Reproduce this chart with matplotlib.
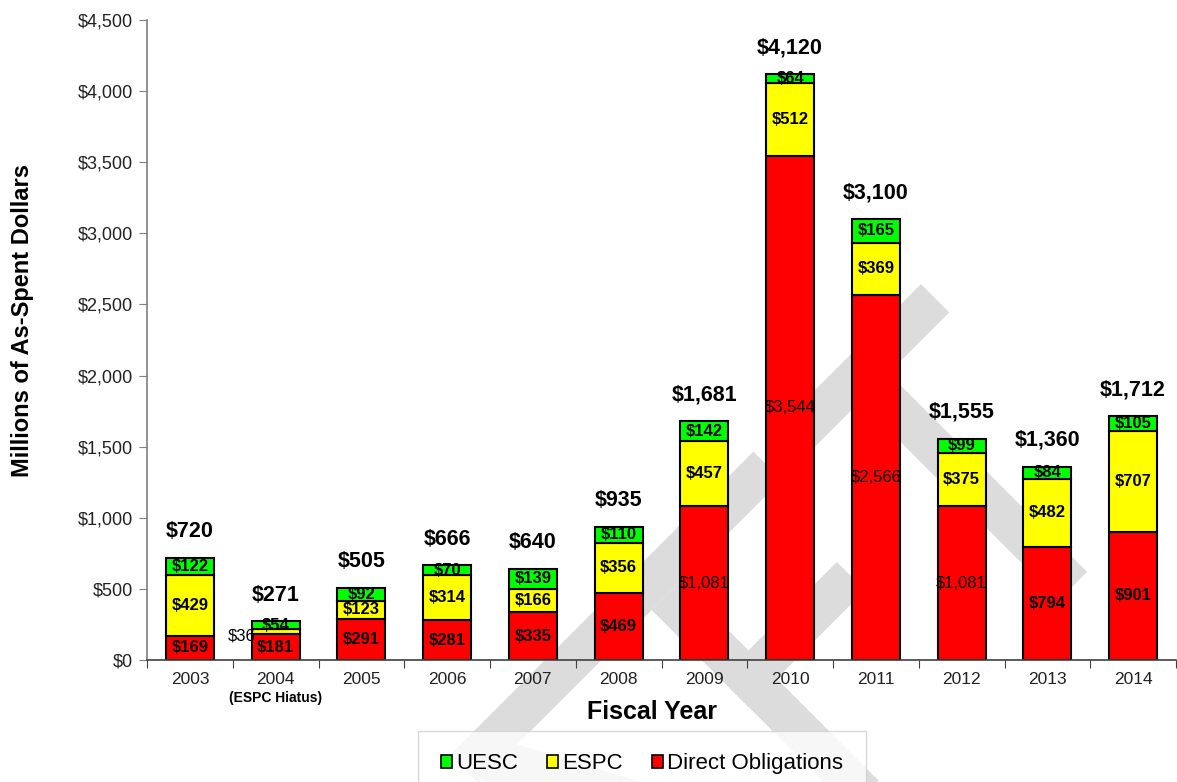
import matplotlib
matplotlib.use("Agg")
import matplotlib.pyplot as plt
from matplotlib.patches import Polygon
from matplotlib.ticker import FuncFormatter, FixedLocator
import numpy as np

years = ["2003", "2004", "2005", "2006", "2007", "2008", "2009", "2010",
         "2011", "2012", "2013", "2014"]
direct = [169, 181, 291, 281, 335, 469, 1081, 3544, 2566, 1081, 794, 901]
espc = [429, 36, 123, 314, 166, 356, 457, 512, 369, 375, 482, 707]
uesc = [122, 54, 92, 70, 139, 110, 142, 64, 165, 99, 84, 105]
totals = [720, 271, 505, 666, 640, 935, 1681, 4120, 3100, 1555, 1360, 1712]

plt.rcParams['font.family'] = ['Liberation Sans', 'DejaVu Sans']

W, H = 1177, 782
fig = plt.figure(figsize=(W / 100, H / 100), dpi=100)
ax = fig.add_axes([147 / W, 1 - 660 / H, (1176 - 147) / W, 640 / H])
ax.set_facecolor('none')

# grey "DRAFT" watermark, drawn as strokes in a 45 degree rotated frame
# (origin = foot of the T, units = pixels)
org = np.array([1073.0, 586.0])
r = np.array([1.0, -1.0]) / np.sqrt(2)   # along the baseline
u = np.array([-1.0, -1.0]) / np.sqrt(2)  # letter "up"


def rect(x0, x1, y0, y1):
    pts = [org + a * r + b * u for a, b in
           [(x0, y0), (x1, y0), (x1, y1), (x0, y1)]]
    return [(p[0] / W, 1 - p[1] / H) for p in pts]


def leg(a0, b0, a1, b1, w):
    p0 = org + a0 * r + b0 * u
    p1 = org + a1 * r + b1 * u
    d = (p1 - p0) / np.hypot(*(p1 - p0))
    n = np.array([-d[1], d[0]]) * w / 2
    pts = [p0 + n, p1 + n, p1 - n, p0 - n]
    return [(p[0] / W, 1 - p[1] / H) for p in pts]


shapes = [rect(-106, 106, 281, 321),   # T bar
          rect(-20, 20, 0, 281),       # T stem
          rect(-560, -131, 281, 321),  # F top bar
          rect(-315, -275, 0, 281),    # F stem
          rect(-315, -150, 144, 184),  # F middle bar
          leg(-540, 300, -380, 0, 44)]  # A leg
for s in shapes:
    fig.patches.append(Polygon(s, closed=True, transform=fig.transFigure,
                               facecolor='#dcdcdc', edgecolor='none',
                               zorder=-1))

x = np.arange(len(years))
direct = np.array(direct)
espc = np.array(espc)
uesc = np.array(uesc)
width = 0.56

b_dir = ax.bar(x, direct, width, color='#FF0000', edgecolor='black',
               linewidth=1.5, label='Direct Obligations', zorder=2)
b_espc = ax.bar(x, espc, width, bottom=direct, color='#FFFF00',
                edgecolor='black', linewidth=1.5, label='ESPC', zorder=2)
b_uesc = ax.bar(x, uesc, width, bottom=direct + espc, color='#00FF00',
                edgecolor='black', linewidth=1.5, label='UESC', zorder=2)

# segment labels
for i in range(len(years)):
    for base, val in [(0, direct[i]), (direct[i], espc[i]),
                      (direct[i] + espc[i], uesc[i])]:
        w = 'normal' if val >= 1000 else 'bold'
        if years[i] == "2004" and val == espc[i] and base == direct[i]:
            ax.annotate("$%d" % val, (i - width / 2, base + val / 2),
                        xytext=(3, -3), textcoords='offset points',
                        ha='right', va='center', fontsize=12, zorder=3)
            continue
        ax.text(i, base + val / 2, "${:,}".format(val), ha='center',
                va='center', fontsize=12, fontweight=w, zorder=3)

# totals above bars
tops = direct + espc + uesc
for i in range(len(years)):
    ax.annotate("${:,}".format(totals[i]), (i, tops[i]), xytext=(0, 19),
                textcoords='offset points', ha='center', va='center',
                fontsize=15.5, fontweight='bold')

ax.set_xlim(-0.5, len(years) - 0.5)
ax.set_ylim(0, 4500)
ax.set_yticks(np.arange(0, 4501, 500))
ax.yaxis.set_major_formatter(FuncFormatter(lambda v, p: "${:,.0f}".format(v)))
ax.tick_params(axis='y', labelsize=13, length=6, color='#808080',
               labelcolor='#222222', pad=4)

ax.xaxis.set_major_locator(FixedLocator(np.arange(-0.5, len(years), 1.0)))
ax.xaxis.set_major_formatter(FuncFormatter(lambda v, p: ""))
ax.set_xticks(x, minor=True)
ax.set_xticklabels(years, minor=True)
ax.tick_params(axis='x', which='major', length=6, color='#404040')
ax.tick_params(axis='x', which='minor', length=0, labelsize=12.5,
               labelcolor='#222222', pad=9)

ax.spines['top'].set_visible(False)
ax.spines['right'].set_visible(False)
ax.spines['left'].set_color('#808080')
ax.spines['bottom'].set_color('#404040')
ax.spines['left'].set_linewidth(1.2)
ax.spines['bottom'].set_linewidth(1.2)

ax.text(1, -0.059, "(ESPC Hiatus)", transform=ax.get_xaxis_transform(),
        ha='center', va='center', fontsize=10, fontweight='bold')

ax.set_ylabel("Millions of As-Spent Dollars", fontsize=17, fontweight='bold')
ax.yaxis.set_label_coords(-0.11, 0.53)
ax.set_xlabel("Fiscal Year", fontsize=18, fontweight='bold')
ax.xaxis.set_label_coords(0.491, -0.062)

leg_ = fig.legend([b_uesc, b_espc, b_dir], ['UESC', 'ESPC', 'Direct Obligations'],
                  loc='upper center', bbox_to_anchor=(642 / W, 1 - 731 / H),
                  borderaxespad=0, ncol=3, fontsize=16, frameon=True,
                  fancybox=False, handlelength=0.5, handleheight=0.5,
                  handletextpad=0.2, columnspacing=1.3, borderpad=1.0)
leg_.get_frame().set_edgecolor('#d0d0d0')
leg_.get_frame().set_linewidth(1.0)
for h in leg_.legend_handles:
    h.set_linewidth(1.2)

fig.savefig("out.png", dpi=100)
